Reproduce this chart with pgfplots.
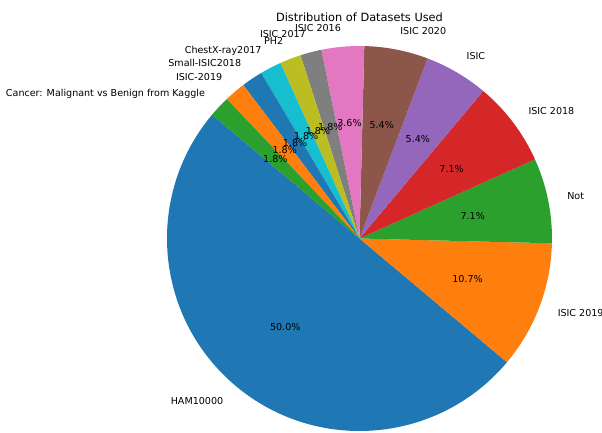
\documentclass[border=0pt]{standalone}
\usepackage{pgfplots}
\pgfplotsset{compat=1.18}
\usepackage{pgfplotstable}
\usepackage{fontspec}
\setmainfont{DejaVu Sans}

\definecolor{tabblue}{HTML}{1F77B4}
\definecolor{taborange}{HTML}{FF7F0E}
\definecolor{tabgreen}{HTML}{2CA02C}
\definecolor{tabred}{HTML}{D62728}
\definecolor{tabpurple}{HTML}{9467BD}
\definecolor{tabbrown}{HTML}{8C564B}
\definecolor{tabpink}{HTML}{E377C2}
\definecolor{tabgray}{HTML}{7F7F7F}
\definecolor{tabolive}{HTML}{BCBD22}
\definecolor{tabcyan}{HTML}{17BECF}

% number of studies per dataset
\pgfplotstableread[col sep=comma]{
label,count,color
HAM10000,28,tabblue
ISIC 2019,6,taborange
Not,4,tabgreen
ISIC 2018,4,tabred
ISIC,3,tabpurple
ISIC 2020,3,tabbrown
ISIC 2016,2,tabpink
ISIC 2017,1,tabgray
PH2,1,tabolive
ChestX-ray2017,1,tabcyan
Small-ISIC2018,1,tabblue
ISIC-2019,1,taborange
Cancer: Malignant vs Benign from Kaggle,1,tabgreen
}\piedata

\def\cx{359.5}
\def\cy{194.5}
\def\rad{192.5}
\def\startang{140}

\begin{document}
\begin{tikzpicture}
\useasboundingbox (0,0) rectangle (602bp,433bp);
\clip (0,0) rectangle (602bp,433bp);
\begin{axis}[at={(0,0)}, anchor=south west,
  scale only axis, width=602bp, height=433bp,
  xmin=0, xmax=602, ymin=0, ymax=433,
  hide axis, clip=false]
\pgfplotstablegetrowsof{\piedata}
\pgfmathtruncatemacro\lastrow{\pgfplotsretval-1}
\def\total{0}
\pgfplotsforeachungrouped \i in {0,...,\lastrow}{%
  \pgfplotstablegetelem{\i}{count}\of\piedata
  \pgfmathsetmacro\total{\total+\pgfplotsretval}}
\def\cum{0}
\pgfplotsforeachungrouped \i in {0,...,\lastrow}{%
  \pgfplotstablegetelem{\i}{count}\of\piedata \let\cnt\pgfplotsretval
  \pgfplotstablegetelem{\i}{label}\of\piedata \let\lab\pgfplotsretval
  \pgfplotstablegetelem{\i}{color}\of\piedata \let\col\pgfplotsretval
  \pgfmathsetmacro\a{\startang+\cum/\total*360}
  \pgfmathsetmacro\b{\startang+(\cum+\cnt)/\total*360}
  \pgfmathsetmacro\m{(\a+\b)/2}
  \pgfmathsetmacro\sx{\cx+\rad*cos(\a)}
  \pgfmathsetmacro\sy{\cy+\rad*sin(\a)}
  \pgfmathsetmacro\lx{\cx+1.1*\rad*cos(\m)}
  \pgfmathsetmacro\ly{\cy+1.1*\rad*sin(\m)}
  \pgfmathsetmacro\cm{cos(\m)}
  \ifdim\cm pt>0pt \def\anc{west}\else\def\anc{east}\fi
  \edef\temp{%
    \noexpand\fill[\col] (axis cs:\cx,\cy) -- (axis cs:\sx,\sy)
      arc[start angle=\a, end angle=\b, radius=\rad bp] -- cycle;
    \noexpand\node[anchor=\anc, inner sep=0pt, font=\noexpand\fontsize{9.6}{11}\noexpand\selectfont]
      at (axis cs:\lx,\ly) {\lab};
  }\temp
  \pgfmathsetmacro\cum{\cum+\cnt}
}
% percentages on top of all wedges
\def\cum{0}
\pgfplotsforeachungrouped \i in {0,...,\lastrow}{%
  \pgfplotstablegetelem{\i}{count}\of\piedata \let\cnt\pgfplotsretval
  \pgfmathsetmacro\a{\startang+\cum/\total*360}
  \pgfmathsetmacro\b{\startang+(\cum+\cnt)/\total*360}
  \pgfmathsetmacro\m{(\a+\b)/2}
  \pgfmathsetmacro\px{\cx+0.6*\rad*cos(\m)}
  \pgfmathsetmacro\py{\cy+0.6*\rad*sin(\m)}
  \pgfmathsetmacro\pct{\cnt/\total*100}
  \pgfmathprintnumberto[fixed,fixed zerofill,precision=1,assume math mode=true]{\pct}{\pctstr}
  \edef\temp{%
    \noexpand\node[inner sep=0pt, font=\noexpand\fontsize{9.6}{11}\noexpand\selectfont]
      at (axis cs:\px,\py) {\pctstr\noexpand\%};
  }\temp
  \pgfmathsetmacro\cum{\cum+\cnt}
}
\node[inner sep=0pt, font=\fontsize{11.4}{13}\selectfont]
  at (axis cs:359.5,416) {Distribution of Datasets Used};
\end{axis}
\end{tikzpicture}
\end{document}
